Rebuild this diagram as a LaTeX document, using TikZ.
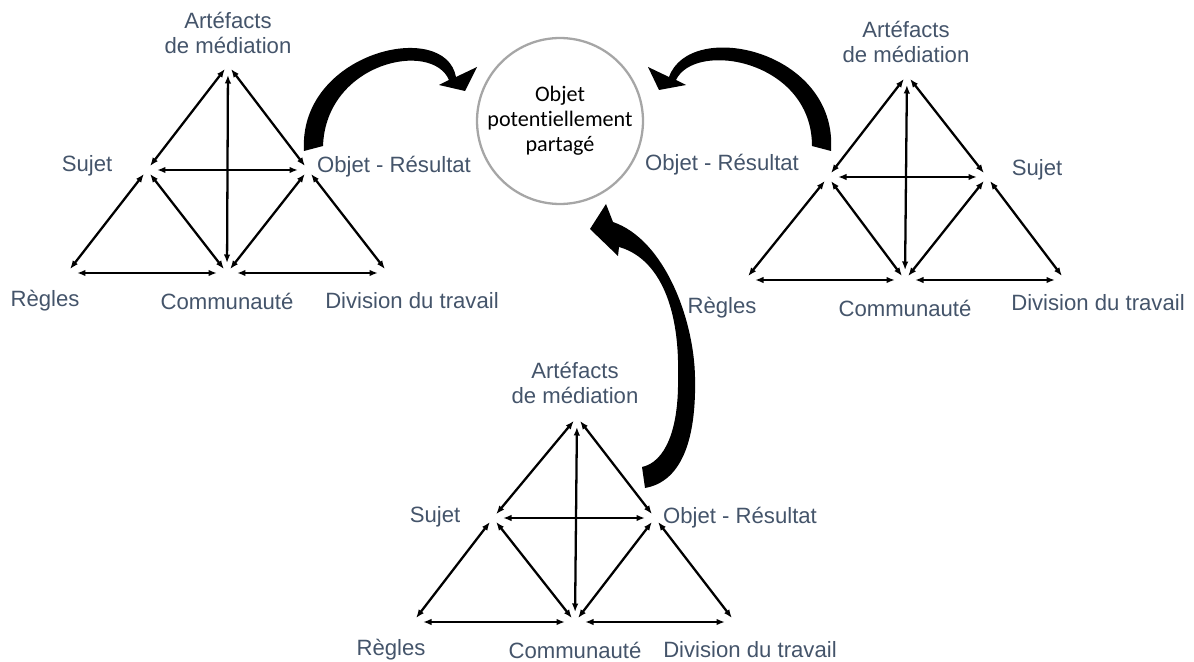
\documentclass[tikz,border=0pt]{standalone}
\usepackage{fontspec}
\setmainfont{Liberation Sans}
\newfontfamily\circfont[Ligatures=NoCommon]{Carlito}
\usetikzlibrary{arrows.meta}
\definecolor{lblblue}{HTML}{44546A}
\definecolor{ringgray}{HTML}{A6A6A6}

\begin{document}
\begin{tikzpicture}[x=0.02cm, y=0.02cm, >={Latex[length=1.7mm,width=1.3mm]}]
    \tikzstyle{every node}+=[inner sep=0pt]
    \tikzstyle{lbl}=[text=lblblue, font=\fontsize{12.6}{14.2}\selectfont, align=center]
    \tikzstyle{link}=[<->, line width=1.3pt, shorten <=0.1cm, shorten >=0.1cm]
    \tikzstyle{flat}=[link, shorten <=0.2cm, shorten >=0.2cm]
    \tikzstyle{bigarrow}=[fill=black, draw=none]
    \useasboundingbox (0,0) rectangle (1194,-662);
    % shared object
    \node [circle, draw=ringgray, line width=1.3pt, minimum size=3.32cm,
      font=\circfont\fontsize{12.6}{14.2}\selectfont, align=center] (obj) at (560,-121)
      {Objet\\potentiellement\\partagé};
    % top left system
    \coordinate (tlA) at (228,-65);
    \coordinate (tlS) at (147,-170);
    \coordinate (tlO) at (308,-170);
    \coordinate (tlR) at (67,-273);
    \coordinate (tlC) at (227,-273);
    \coordinate (tlD) at (388,-273);
    \node [lbl] (tlAl) at (228,-33) {Artéfacts\\de médiation};
    \node [lbl] (tlSl) at (87,-166) {Sujet};
    \node [lbl] (tlOl) at (394,-167) {Objet - Résultat};
    \node [lbl] (tlRl) at (45,-301) {Règles};
    \node [lbl] (tlCl) at (227,-301) {Communauté};
    \node [lbl] (tlDl) at (412,-301) {Division du travail};
    \draw [link] (tlA) -- (tlS);
    \draw [link] (tlA) -- (tlO);
    \draw [flat] (tlA) -- (tlC);
    \draw [flat] (tlS) -- (tlO);
    \draw [link] (tlS) -- (tlR);
    \draw [link] (tlS) -- (tlC);
    \draw [link] (tlO) -- (tlC);
    \draw [link] (tlO) -- (tlD);
    \draw [flat] (tlR) -- (tlC);
    \draw [flat] (tlC) -- (tlD);
    % top right system
    \coordinate (trA) at (907,-75);
    \coordinate (trO) at (828,-177);
    \coordinate (trS) at (987,-177);
    \coordinate (trR) at (745,-280);
    \coordinate (trC) at (905,-280);
    \coordinate (trD) at (1065,-280);
    \node [lbl] (trAl) at (906,-42) {Artéfacts\\de médiation};
    \node [lbl] (trOl) at (722,-165) {Objet - Résultat};
    \node [lbl] (trSl) at (1037,-170) {Sujet};
    \node [lbl] (trRl) at (722,-308) {Règles};
    \node [lbl] (trCl) at (905,-308) {Communauté};
    \node [lbl] (trDl) at (1098,-303) {Division du travail};
    \draw [link] (trA) -- (trO);
    \draw [link] (trA) -- (trS);
    \draw [flat] (trA) -- (trC);
    \draw [flat] (trO) -- (trS);
    \draw [link] (trO) -- (trR);
    \draw [link] (trO) -- (trC);
    \draw [link] (trS) -- (trC);
    \draw [link] (trS) -- (trD);
    \draw [flat] (trR) -- (trC);
    \draw [flat] (trC) -- (trD);
    % bottom system
    \coordinate (bmA) at (577,-417);
    \coordinate (bmS) at (493,-518);
    \coordinate (bmO) at (655,-518);
    \coordinate (bmR) at (413,-622);
    \coordinate (bmC) at (575,-622);
    \coordinate (bmD) at (735,-622);
    \node [lbl] (bmAl) at (575,-383) {Artéfacts\\de médiation};
    \node [lbl] (bmSl) at (435,-517) {Sujet};
    \node [lbl] (bmOl) at (740,-518) {Objet - Résultat};
    \node [lbl] (bmRl) at (391,-650) {Règles};
    \node [lbl] (bmCl) at (575,-650) {Communauté};
    \node [lbl] (bmDl) at (750,-650) {Division du travail};
    \draw [link] (bmA) -- (bmS);
    \draw [link] (bmA) -- (bmO);
    \draw [flat] (bmA) -- (bmC);
    \draw [flat] (bmS) -- (bmO);
    \draw [link] (bmS) -- (bmR);
    \draw [link] (bmS) -- (bmC);
    \draw [link] (bmO) -- (bmC);
    \draw [link] (bmO) -- (bmD);
    \draw [flat] (bmR) -- (bmC);
    \draw [flat] (bmC) -- (bmD);
    % big curved arrows to the shared object
    \coordinate (tlTail) at (304,-151);
    \coordinate (objIn1) at (465,-91);
    \coordinate (trTail) at (831,-151);
    \coordinate (objIn2) at (659,-90);
    \coordinate (bmTail) at (645,-488);
    \coordinate (objIn3) at (590,-229);
    \fill [bigarrow] (tlTail) .. controls (298,-52) and (445,-18) .. (456,-77)
      -- (477,-67) -- (objIn1) -- (439,-85) -- (449,-80)
      .. controls (432,-40) and (326,-62) .. (323,-146) -- cycle;
    \fill [bigarrow] (trTail) .. controls (838,-50) and (690,-18) .. (669,-77)
      -- (648,-67) -- (objIn2) -- (686,-85) -- (676,-80)
      .. controls (695,-40) and (812,-60) .. (812,-146) -- cycle;
    \fill [bigarrow] (bmTail) .. controls (690,-480) and (696,-420) .. (695,-377)
      .. controls (694,-320) and (665,-240) .. (613,-222)
      -- (606,-204) -- (objIn3) -- (618,-256) -- (619,-247)
      .. controls (655,-257) and (680,-300) .. (678,-377)
      .. controls (679,-430) and (665,-462) .. (642,-467) -- cycle;
\end{tikzpicture}
\end{document}
